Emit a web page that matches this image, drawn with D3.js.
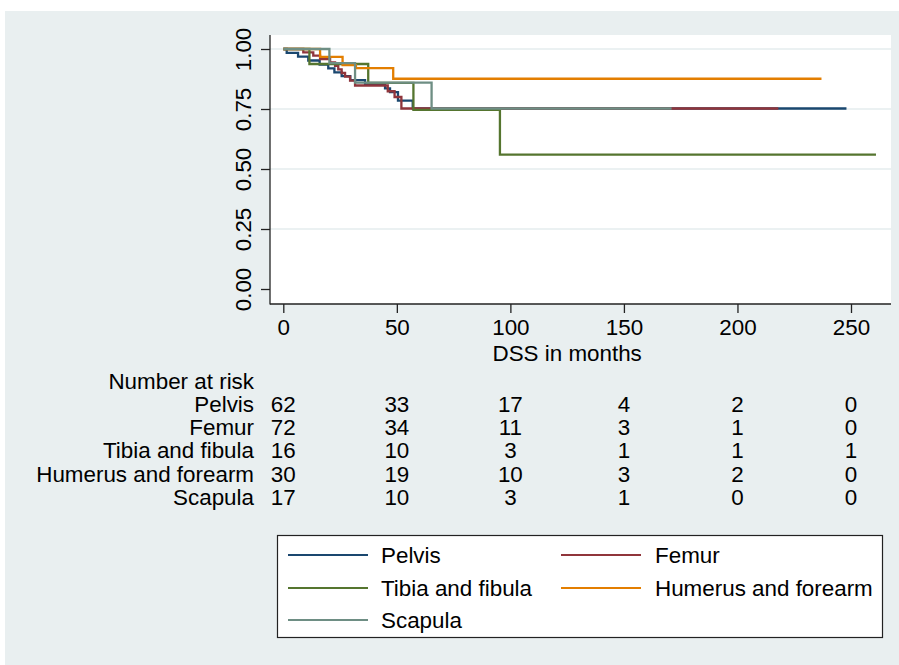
<!DOCTYPE html>
<html>
<head>
<meta charset="utf-8">
<script src="https://cdn.jsdelivr.net/npm/d3@7/dist/d3.min.js"></script>
<style>
  html, body { margin: 0; padding: 0; background: #ffffff; }
  svg { display: block; }
  text { font-family: "Liberation Sans", Arial, Helvetica, sans-serif; fill: #000; }
</style>
</head>
<body>
<div id="chart"></div>
<script>
// ---------------- data ----------------
const groups = ["Pelvis", "Femur", "Tibia and fibula", "Humerus and forearm", "Scapula"];
const colors = ["#1a476f", "#90353b", "#55752f", "#e37e00", "#6e8e84"];
const xTicks = [0, 50, 100, 150, 200, 250];
const yTicks = [0, 0.25, 0.5, 0.75, 1];

// Kaplan-Meier step points (months, survival); last time = last follow-up
const pelvisT = [0, 1.5, 6.5, 11, 16, 19.8, 22.5, 25.7, 29.5, 36, 44.8, 47, 50.5, 57, 248];
const pelvisS = [1, 0.984, 0.968, 0.952, 0.935, 0.919, 0.903, 0.887, 0.870, 0.852, 0.836, 0.820, 0.785, 0.752, 0.752];
const femurT = [0, 8.8, 13.2, 16.2, 20.6, 22.8, 24.2, 25.7, 27.2, 29.4, 31.6, 46, 49, 52, 218];
const femurS = [1, 0.986, 0.972, 0.958, 0.944, 0.930, 0.915, 0.900, 0.885, 0.868, 0.848, 0.824, 0.800, 0.752, 0.752];
const tibiaT = [0, 11.5, 37.4, 57.3, 95.4, 261];
const tibiaS = [1, 0.9375, 0.859, 0.746, 0.560, 0.560];
const humerusT = [0, 16.2, 26.1, 32, 48.4, 237];
const humerusS = [1, 0.967, 0.933, 0.920, 0.876, 0.876];
const scapulaT = [0, 20.3, 31.6, 65.3, 171];
const scapulaS = [1, 0.941, 0.860, 0.752, 0.752];

const seriesT = [pelvisT, femurT, tibiaT, humerusT, scapulaT];
const seriesS = [pelvisS, femurS, tibiaS, humerusS, scapulaS];

// number at risk at the x ticks
const riskPelvis = [62, 33, 17, 4, 2, 0];
const riskFemur = [72, 34, 11, 3, 1, 0];
const riskTibia = [16, 10, 3, 1, 1, 1];
const riskHumerus = [30, 19, 10, 3, 2, 0];
const riskScapula = [17, 10, 3, 1, 0, 0];
const riskRows = [riskPelvis, riskFemur, riskTibia, riskHumerus, riskScapula];

// ---------------- layout ----------------
const W = 899, H = 665;
const plot = { left: 270, right: 891, top: 35, bottom: 304 };
const fs = 22.4;

const svg = d3.select("#chart").append("svg").attr("width", W).attr("height", H);

// graph region background
svg.append("rect").attr("x", 5).attr("y", 11).attr("width", W - 5).attr("height", H - 11)
  .attr("fill", "#e9eff0");
// plot region
svg.append("rect").attr("x", plot.left).attr("y", plot.top)
  .attr("width", plot.right - plot.left).attr("height", plot.bottom - plot.top)
  .attr("fill", "#ffffff");

const x = d3.scaleLinear().domain([0, 250]).range([283.3, 851]);
const y = d3.scaleLinear().domain([0, 1]).range([289, 49]);

// gridlines
svg.append("g").selectAll("line").data(yTicks.filter(d => d > 0)).join("line")
  .attr("x1", plot.left).attr("x2", plot.right)
  .attr("y1", d => y(d)).attr("y2", d => y(d))
  .attr("stroke", "#e4ecee").attr("stroke-width", 1.5);

// curves
const line = d3.line().x(d => x(d[0])).y(d => y(d[1])).curve(d3.curveStepAfter);
groups.forEach((g, i) => {
  const pts = seriesT[i].map((t, j) => [t, seriesS[i][j]]);
  svg.append("path").datum(pts).attr("d", line)
    .attr("fill", "none").attr("stroke", colors[i]).attr("stroke-width", 2.3)
    .attr("stroke-linejoin", "miter");
});

// axes
const xAxis = svg.append("g").attr("transform", `translate(0,${plot.bottom})`)
  .call(d3.axisBottom(x).tickValues(xTicks).tickSize(9).tickSizeOuter(0).tickPadding(6));
xAxis.select(".domain").remove();
xAxis.selectAll(".tick line").attr("stroke", "#222").attr("stroke-width", 1.3);
xAxis.selectAll(".tick text").attr("font-size", fs).attr("fill", "#000")
  .attr("font-family", "Liberation Sans, Arial, sans-serif");

const yAxis = svg.append("g").attr("transform", `translate(${plot.left},0)`)
  .call(d3.axisLeft(y).tickValues(yTicks).tickSize(9).tickSizeOuter(0).tickFormat(d3.format(".2f")));
yAxis.select(".domain").remove();
yAxis.selectAll(".tick line").attr("stroke", "#222").attr("stroke-width", 1.3);
yAxis.selectAll(".tick text")
  .attr("font-size", fs).attr("fill", "#000")
  .attr("font-family", "Liberation Sans, Arial, sans-serif")
  .attr("transform", "rotate(-90)")
  .attr("text-anchor", "middle")
  .attr("x", 0).attr("y", -19).attr("dy", 0);

// axis lines
svg.append("line").attr("x1", plot.left).attr("x2", plot.left)
  .attr("y1", plot.top).attr("y2", plot.bottom + 0.6)
  .attr("stroke", "#222").attr("stroke-width", 1.3);
svg.append("line").attr("x1", plot.left).attr("x2", plot.right)
  .attr("y1", plot.bottom).attr("y2", plot.bottom)
  .attr("stroke", "#222").attr("stroke-width", 1.3);

// axis title
svg.append("text").attr("x", (x(0) + x(250)) / 2).attr("y", 361)
  .attr("text-anchor", "middle").attr("font-size", fs).text("DSS in months");

// number at risk table
const tableTop = 388.5, rowH = 23.3;
svg.append("text").attr("x", 254).attr("y", tableTop).attr("text-anchor", "end")
  .attr("font-size", fs).text("Number at risk");
groups.forEach((g, i) => {
  const yy = tableTop + rowH * (i + 1);
  svg.append("text").attr("x", 254).attr("y", yy).attr("text-anchor", "end")
    .attr("font-size", fs).text(g);
  svg.append("g").selectAll("text").data(riskRows[i]).join("text")
    .attr("x", (d, j) => x(xTicks[j])).attr("y", yy)
    .attr("text-anchor", "middle").attr("font-size", fs).text(d => d);
});

// legend
const lg = { x: 277.5, y: 535.5, w: 605, h: 102 };
svg.append("rect").attr("x", lg.x).attr("y", lg.y).attr("width", lg.w).attr("height", lg.h)
  .attr("fill", "#ffffff").attr("stroke", "#222").attr("stroke-width", 1.2);
const legCols = [{ lx1: 288, lx2: 368, tx: 381 }, { lx1: 561, lx2: 641, tx: 655 }];
const legRows = [555, 588, 620];
groups.forEach((g, i) => {
  const c = legCols[i % 2], r = legRows[Math.floor(i / 2)];
  svg.append("line").attr("x1", c.lx1).attr("x2", c.lx2).attr("y1", r).attr("y2", r)
    .attr("stroke", colors[i]).attr("stroke-width", 2);
  svg.append("text").attr("x", c.tx).attr("y", r).attr("dy", "0.36em")
    .attr("font-size", fs).text(g);
});
</script>
</body>
</html>
